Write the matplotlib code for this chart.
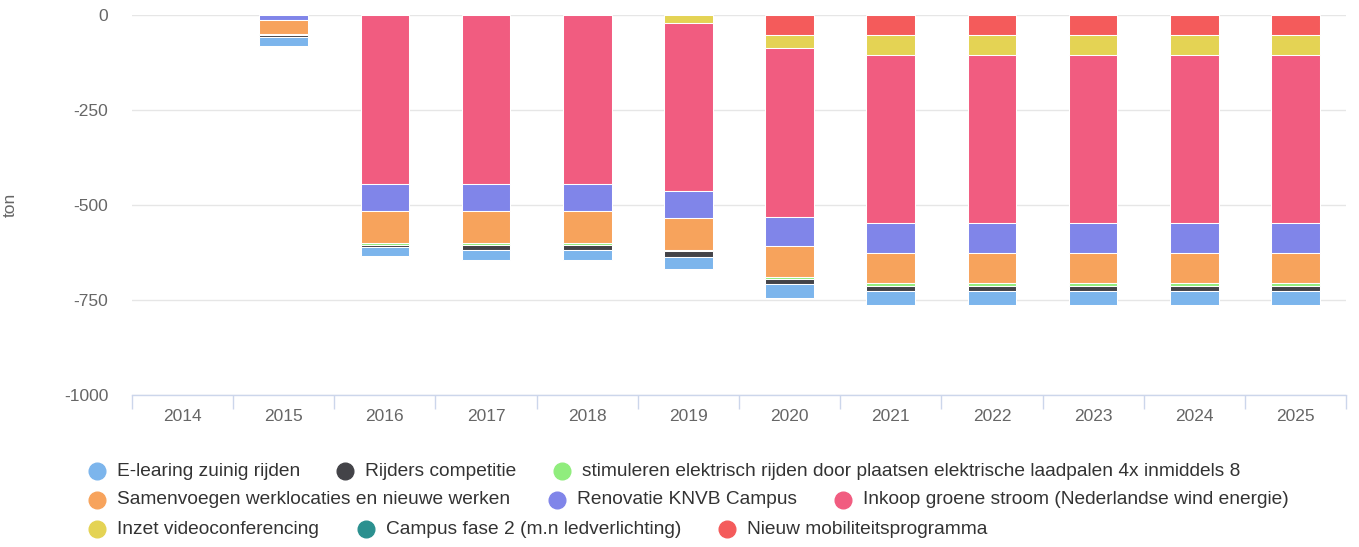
import matplotlib
matplotlib.use("Agg")
import matplotlib.pyplot as plt
from matplotlib.lines import Line2D
import numpy as np

plt.rcParams['font.family'] = ['Liberation Sans', 'DejaVu Sans']

years = ["2014", "2015", "2016", "2017", "2018", "2019", "2020", "2021", "2022", "2023", "2024", "2025"]

e_learing = [0, 22, 25, 27, 27, 33, 35, 36, 36, 36, 36, 36]
rijders = [0, 6, 6, 14, 14, 14, 13, 14, 14, 14, 14, 14]
stimuleren = [0, 2, 5, 5, 5, 3, 7, 7, 7, 7, 7, 7]
samenvoegen = [0, 39, 82, 82, 82, 85, 81, 80, 80, 80, 80, 80]
renovatie = [0, 12, 71, 71, 71, 70, 77, 78, 78, 78, 78, 78]
inkoop = [0, 0, 446, 446, 446, 442, 443, 443, 443, 443, 443, 443]
inzet = [0, 0, 0, 0, 0, 22, 35, 52, 52, 52, 52, 52]
campus = [0, 0, 0, 0, 0, 0, 0, 0, 0, 0, 0, 0]
nieuw = [0, 0, 0, 0, 0, 0, 53, 53, 53, 53, 53, 53]

names = ["E-learing zuinig rijden", "Rijders competitie",
         "stimuleren elektrisch rijden door plaatsen elektrische laadpalen 4x inmiddels 8",
         "Samenvoegen werklocaties en nieuwe werken", "Renovatie KNVB Campus",
         "Inkoop groene stroom (Nederlandse wind energie)", "Inzet videoconferencing",
         "Campus fase 2 (m.n ledverlichting)", "Nieuw mobiliteitsprogramma"]
colors = ["#7cb5ec", "#434348", "#90ed7d", "#f7a35c", "#8085e9", "#f15c80",
          "#e4d354", "#2b908f", "#f45b5b"]
series = [e_learing, rijders, stimuleren, samenvoegen, renovatie, inkoop, inzet, campus, nieuw]

# stacking order from zero downward
stack_order = [8, 7, 6, 5, 4, 3, 2, 1, 0]

W, H = 1359, 547
fig = plt.figure(figsize=(W / 100, H / 100), dpi=100)
ax = fig.add_axes([132 / W, 1 - 395 / H, (1346 - 132) / W, (395 - 15) / H])

x = np.arange(len(years))
bottom = np.zeros(len(years))
for i in stack_order:
    vals = -np.array(series[i], dtype=float)
    mask = vals != 0
    if mask.any():
        ax.bar(x[mask], vals[mask], width=0.48, bottom=bottom[mask], color=colors[i],
               edgecolor="white", linewidth=0.75, zorder=3)
    bottom = bottom + vals

ax.set_xlim(-0.5, len(years) - 0.5)
ax.set_ylim(-1000, 0)
ax.set_yticks([0, -250, -500, -750, -1000])
ax.set_yticklabels(["0", "-250", "-500", "-750", "-1000"])
ax.yaxis.grid(True, color="#e6e6e6", linewidth=1, zorder=0)
ax.set_axisbelow(True)
for s in ["top", "right", "left"]:
    ax.spines[s].set_visible(False)
ax.spines["bottom"].set_color("#ccd6eb")
ax.spines["bottom"].set_linewidth(1)
ax.spines["bottom"].set_zorder(4)

ax.set_xticks(x)
ax.set_xticklabels(years)
ax.set_xticks(np.arange(-0.5, len(years), 1.0), minor=True)
ax.tick_params(axis="x", which="major", length=0, pad=10, labelsize=12.5, labelcolor="#666666")
ax.tick_params(axis="x", which="minor", length=10, color="#ccd6eb", width=1)
ax.tick_params(axis="y", length=0, pad=17, labelsize=12.5, labelcolor="#666666")
ax.set_ylabel("ton", fontsize=12.5, color="#666666")
ax.yaxis.set_label_coords((18 - 132) / (1346 - 132), 0.5)

# legend (manual flowing layout)
legend_rows = [
    [(0, 97), (1, 345), (2, 562)],
    [(3, 97), (4, 557), (5, 843)],
    [(6, 97), (7, 366), (8, 727)],
]
row_y = [471, 500, 529]
for r, items in enumerate(legend_rows):
    yy = 1 - row_y[r] / H
    for idx, px in items:
        fig.add_artist(Line2D([px / W], [yy], marker="o", markersize=12,
                              color=colors[idx], linestyle="none",
                              transform=fig.transFigure))
        fig.text((px + 20) / W, yy, names[idx], fontsize=13.8, color="#333333",
                 va="center", ha="left")

fig.savefig("out.png", dpi=100, facecolor="white")
